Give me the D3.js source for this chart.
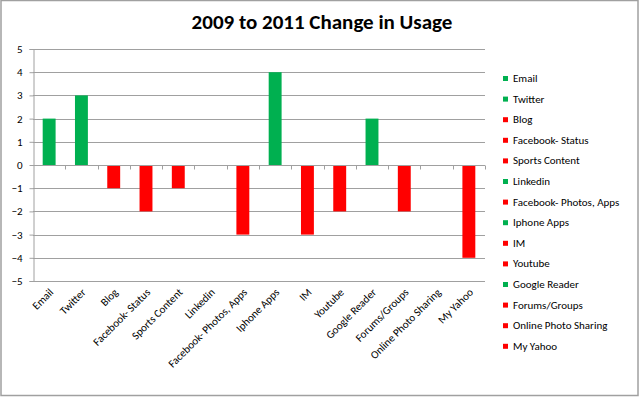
<!DOCTYPE html>
<html>
<head>
<meta charset="utf-8">
<script src="https://cdn.jsdelivr.net/npm/d3@7"></script>
<style>
  html, body { margin: 0; padding: 0; background: #fff; }
  svg { display: block; font-family: Carlito, Lato, sans-serif; }
</style>
</head>
<body>
<svg id="chart" width="640" height="397"></svg>
<script>
// ── Data ──────────────────────────────────────────────────────────────
const categories = [
  'Email', 'Twitter', 'Blog', 'Facebook- Status', 'Sports Content', 'Linkedin',
  'Facebook- Photos, Apps', 'Iphone Apps', 'IM', 'Youtube', 'Google Reader',
  'Forums/Groups', 'Online Photo Sharing', 'My Yahoo',
];
const changes = [2, 3, -1, -2, -1, 0, -3, 4, -3, -2, 2, -2, 0, -4];
// legend colour per point (zero values still get a swatch)
const pointSign = ['up', 'up', 'down', 'down', 'down', 'up', 'down', 'up', 'down', 'down', 'up', 'down', 'down', 'down'];
const yTicks = [-5, -4, -3, -2, -1, 0, 1, 2, 3, 4, 5];

const GREEN = '#00b050';
const RED = '#ff0000';
const GRID = '#a0a0a0';

const plot = { left: 33, right: 485, top: 49, bottom: 281 };

const svg = d3.select('#chart');

// chart area border
svg.append('rect')
  .attr('x', 1).attr('y', 0.5)
  .attr('width', 637).attr('height', 395)
  .attr('fill', '#fff')
  .attr('stroke', '#a0a0a0')
  .attr('stroke-width', 1.5);

// title
svg.append('text')
  .attr('x', 322).attr('y', 29)
  .attr('text-anchor', 'middle')
  .attr('font-size', '21px')
  .attr('font-weight', 'bold')
  .attr('fill', '#000')
  .text('2009 to 2011 Change in Usage');

const x = d3.scaleBand()
  .domain(categories)
  .range([plot.left, plot.right])
  .paddingInner(0.6)
  .paddingOuter(0.3);

const xStep = d3.scaleLinear()
  .domain([0, categories.length])
  .range([plot.left, plot.right]);

const y = d3.scaleLinear()
  .domain([-5, 5])
  .range([plot.bottom, plot.top]);

// gridlines
svg.append('g')
  .selectAll('line')
  .data(yTicks)
  .join('line')
  .attr('x1', plot.left).attr('x2', plot.right)
  .attr('y1', d => Math.round(y(d)) + 0.5)
  .attr('y2', d => Math.round(y(d)) + 0.5)
  .attr('stroke', GRID)
  .attr('stroke-width', 1);

// y axis
const yAxis = d3.axisLeft(y).tickValues(yTicks).tickSize(4).tickPadding(7);
const yg = svg.append('g')
  .attr('transform', `translate(${plot.left + 0.5},0)`)
  .call(yAxis);
yg.selectAll('line, path').attr('stroke', GRID);
yg.selectAll('text')
  .attr('font-size', '11px')
  .attr('font-family', 'Carlito, Lato, sans-serif')
  .attr('fill', '#000');

// bars
svg.append('g')
  .selectAll('rect')
  .data(categories)
  .join('rect')
  .attr('x', d => x(d))
  .attr('width', x.bandwidth())
  .attr('y', (d, i) => y(Math.max(0, changes[i])))
  .attr('height', (d, i) => Math.abs(y(changes[i]) - y(0)))
  .attr('fill', (d, i) => changes[i] >= 0 ? GREEN : RED);

// category axis at zero with ticks between categories
const zeroY = Math.round(y(0)) + 0.5;
svg.append('line')
  .attr('x1', plot.left).attr('x2', plot.right)
  .attr('y1', zeroY).attr('y2', zeroY)
  .attr('stroke', GRID);
svg.append('g')
  .selectAll('line')
  .data(d3.range(1, categories.length + 1))
  .join('line')
  .attr('x1', d => Math.round(xStep(d)) + 0.5)
  .attr('x2', d => Math.round(xStep(d)) + 0.5)
  .attr('y1', zeroY).attr('y2', zeroY + 4)
  .attr('stroke', GRID);

// rotated category labels
svg.append('g')
  .selectAll('text')
  .data(categories)
  .join('text')
  .attr('transform', d => `translate(${x(d) + x.bandwidth() / 2 + 5},${293}) rotate(-45)`)
  .attr('text-anchor', 'end')
  .attr('font-size', '11px')
  .attr('fill', '#000')
  .text(d => d);

// legend
const legend = svg.append('g')
  .selectAll('g')
  .data(categories)
  .join('g')
  .attr('transform', (d, i) => `translate(503,${82 + i * 20.6})`);
legend.append('rect')
  .attr('x', 0).attr('y', -6)
  .attr('width', 5).attr('height', 5)
  .attr('fill', (d, i) => pointSign[i] === 'up' ? GREEN : RED);
legend.append('text')
  .attr('x', 10).attr('y', 0)
  .attr('font-size', '11px')
  .attr('fill', '#000')
  .text(d => d);
</script>
</body>
</html>
